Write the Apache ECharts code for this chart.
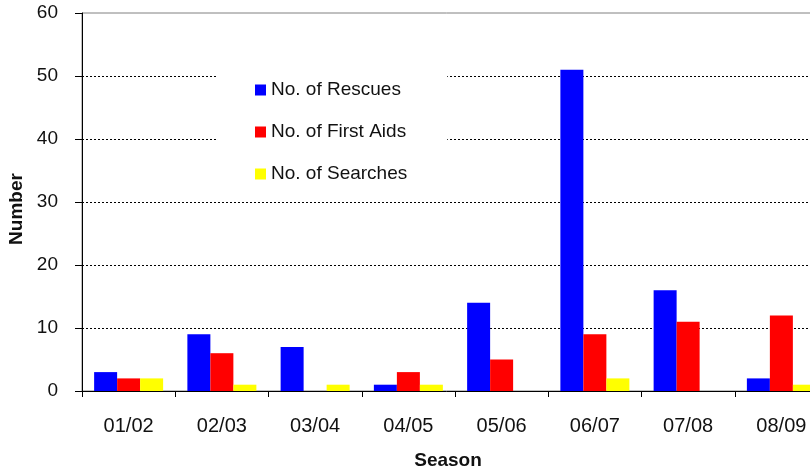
<!DOCTYPE html>
<html>
<head>
<meta charset="utf-8">
<script src="https://cdn.jsdelivr.net/npm/echarts@6/dist/echarts.min.js"></script>
<style>
  html, body { margin: 0; padding: 0; background: #fff; }
  #chart { width: 810px; height: 470px; }
</style>
</head>
<body>
<div id="chart"></div>
<script>
  // seasons on the x axis
  var seasons = ['01/02', '02/03', '03/04', '04/05', '05/06', '06/07', '07/08', '08/09'];
  // counts per season
  var rescues = [3, 9, 7, 1, 14, 51, 16, 2];
  var firstAids = [2, 6, 0, 3, 5, 9, 11, 12];
  var searches = [2, 1, 1, 1, 0, 2, 0, 1];

  var font = 'Liberation Sans, Arial, sans-serif';

  var chart = echarts.init(document.getElementById('chart'));
  chart.setOption({
    animation: false,
    backgroundColor: '#fff',
    grid: {
      left: 82,
      top: 13,
      right: -18,
      bottom: 79,
      outerBoundsMode: 'none',
      containLabel: false,
      show: true,
      borderColor: '#808080',
      borderWidth: 1
    },
    legend: {
      orient: 'vertical',
      left: 218,
      top: 60,
      padding: [20, 40, 12, 37],
      backgroundColor: '#fff',
      itemWidth: 11,
      itemHeight: 11,
      itemGap: 22,
      icon: 'rect',
      textStyle: { fontFamily: font, fontSize: 19, color: '#111', lineHeight: 20 },
      data: ['No. of Rescues', 'No. of First Aids', 'No. of Searches']
    },
    xAxis: {
      type: 'category',
      data: seasons,
      name: 'Season',
      nameLocation: 'middle',
      nameGap: 60,
      nameTextStyle: { fontFamily: font, fontSize: 19, fontWeight: 'bold', color: '#111', padding: [0, 14, 0, 0] },
      axisLine: { lineStyle: { color: '#000', width: 1 } },
      axisTick: { show: true, length: 6, lineStyle: { color: '#000' } },
      axisLabel: { fontFamily: font, fontSize: 20, color: '#111', margin: 25 }
    },
    yAxis: {
      type: 'value',
      min: 0,
      max: 60,
      interval: 10,
      name: 'Number',
      nameLocation: 'middle',
      nameGap: 55,
      nameTextStyle: { fontFamily: font, fontSize: 19, fontWeight: 'bold', color: '#111', padding: [0, 14, 0, 0] },
      axisLine: { show: true, lineStyle: { color: '#000', width: 1 } },
      axisTick: { show: true, length: 7, lineStyle: { color: '#000' } },
      axisLabel: { fontFamily: font, fontSize: 19, color: '#111', margin: 24 },
      splitLine: {
        show: true,
        showMinLine: false,
        showMaxLine: false,
        lineStyle: { color: '#000', type: [2, 2], width: 1 }
      }
    },
    series: [
      { name: 'No. of Rescues', type: 'bar', data: rescues, barWidth: 23, barGap: 0,
        itemStyle: { color: '#0000ff' } },
      { name: 'No. of First Aids', type: 'bar', data: firstAids, barWidth: 23, barGap: 0,
        itemStyle: { color: '#ff0000' } },
      { name: 'No. of Searches', type: 'bar', data: searches, barWidth: 23, barGap: 0,
        itemStyle: { color: '#ffff00' } }
    ]
  });
</script>
</body>
</html>
